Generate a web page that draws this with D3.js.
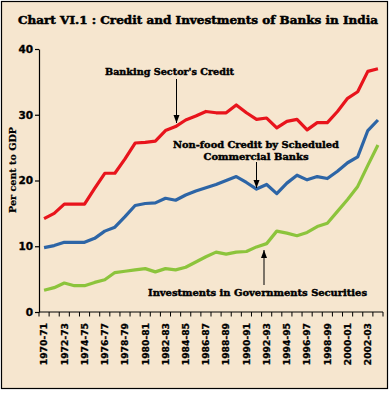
<!DOCTYPE html>
<html>
<head>
<meta charset="utf-8">
<script src="https://cdn.jsdelivr.net/npm/d3@7"></script>
<style>
  html, body { margin: 0; padding: 0; background: #ffffff; }
  svg { display: block; }
</style>
</head>
<body>
<script>
const years = ["1970-71","1971-72","1972-73","1973-74","1974-75","1975-76","1976-77","1977-78","1978-79","1979-80",
  "1980-81","1981-82","1982-83","1983-84","1984-85","1985-86","1986-87","1987-88","1988-89","1989-90",
  "1990-91","1991-92","1992-93","1993-94","1994-95","1995-96","1996-97","1997-98","1998-99","1999-00",
  "2000-01","2001-02","2002-03","2003-04"];
const bankingCredit = [14.2,15.0,16.4,16.4,16.4,18.8,21.1,21.1,23.3,25.7,25.8,26.0,27.6,28.2,29.2,29.8,30.5,30.3,30.3,31.5,
  30.3,29.3,29.5,28.0,29.0,29.3,27.7,28.8,28.8,30.5,32.5,33.5,36.6,37.0];
const nonFoodCredit = [9.8,10.1,10.6,10.6,10.6,11.2,12.3,12.9,14.5,16.2,16.5,16.6,17.3,17.0,17.8,18.4,18.9,19.4,20.0,20.6,
  19.7,18.7,19.4,18.0,19.6,20.8,20.1,20.6,20.3,21.4,22.7,23.6,27.6,29.2];
const govtInvestments = [3.3,3.7,4.4,4.0,4.0,4.5,4.9,6.0,6.2,6.4,6.6,6.1,6.6,6.4,6.8,7.6,8.4,9.1,8.8,9.1,
  9.2,9.9,10.4,12.3,12.0,11.6,12.1,13.0,13.5,15.3,17.1,19.1,22.3,25.4];
const yTicks = [0,10,20,30,40];
const labelYears = years.filter((d,i) => i % 2 === 0);

const W = 392, H = 393;
const bg = "#F6E6CF";
const serif = "'DejaVu Serif', 'Liberation Serif', serif";
const sans = "'DejaVu Sans', 'Liberation Sans', sans-serif";

const svg = d3.select("body").append("svg").attr("width", W).attr("height", H);
svg.append("rect").attr("x", 1.5).attr("y", 1.5).attr("width", 386).attr("height", 387)
  .attr("fill", bg).attr("stroke", "#000").attr("stroke-width", 1.2);

const x = d3.scaleBand().domain(years).range([39, 383]).padding(0);
const xEdge = d3.scaleLinear().domain([0, years.length]).range([39, 383]);
const y = d3.scaleLinear().domain([0, 40]).range([312, 49]);
const cx = d => x(d) + x.bandwidth() / 2;

// title
svg.append("text").attr("x", 198).attr("y", 24).attr("text-anchor", "middle")
  .attr("font-family", serif).attr("font-weight", "900").attr("font-size", 11.5)
  .attr("stroke", "#000").attr("stroke-width", 0.5)
  .attr("textLength", 360).attr("lengthAdjust", "spacingAndGlyphs")
  .text("Chart VI.1 : Credit and Investments of Banks in India");

// y axis
const yAxis = svg.append("g").attr("transform", "translate(39,0)")
  .call(d3.axisLeft(y).tickValues(yTicks).tickSize(4).tickSizeOuter(0).tickPadding(2));
yAxis.select(".domain").attr("stroke", "#000").attr("stroke-width", 1.2);
yAxis.selectAll(".tick line").attr("stroke", "#000").attr("stroke-width", 1.2);
yAxis.selectAll("text").attr("font-family", sans).attr("font-weight", "bold").attr("font-size", 10.5)
  .attr("fill", "#000").attr("stroke", "#000").attr("stroke-width", 0.3);

// x axis
svg.append("line").attr("x1", 39).attr("x2", 383).attr("y1", 312).attr("y2", 312)
  .attr("stroke", "#000").attr("stroke-width", 1.2);
svg.append("g").selectAll("line").data(d3.range(years.length + 1)).join("line")
  .attr("x1", d => xEdge(d)).attr("x2", d => xEdge(d))
  .attr("y1", 312).attr("y2", 316.5).attr("stroke", "#000").attr("stroke-width", 1);
svg.append("g").selectAll("text").data(labelYears).join("text")
  .attr("transform", d => `translate(${cx(d) + 3.3},323) rotate(-90)`)
  .attr("text-anchor", "end")
  .attr("font-family", sans).attr("font-weight", "bold").attr("font-size", 9.2)
  .attr("stroke", "#000").attr("stroke-width", 0.3)
  .text(d => d);

// y axis title
svg.append("text").attr("transform", "translate(16,170) rotate(-90)")
  .attr("text-anchor", "middle").attr("font-family", serif).attr("font-weight", "bold")
  .attr("font-size", 9.5).attr("textLength", 86).attr("lengthAdjust", "spacingAndGlyphs")
  .attr("stroke", "#000").attr("stroke-width", 0.2)
  .text("Per cent to GDP");

// lines
const line = d3.line().x((d, i) => cx(years[i])).y(d => y(d));
const series = [
  { values: govtInvestments, color: "#8CC43C" },
  { values: nonFoodCredit, color: "#2D65A6" },
  { values: bankingCredit, color: "#E8141C" }
];
svg.append("g").selectAll("path").data(series).join("path")
  .attr("d", d => line(d.values)).attr("fill", "none")
  .attr("stroke", d => d.color).attr("stroke-width", 3.2).attr("stroke-linejoin", "round");

// annotations
function annot(lines, xc, ys, widths) {
  lines.forEach((t, i) => {
    svg.append("text").attr("x", xc).attr("y", ys[i]).attr("text-anchor", "middle")
      .attr("font-family", serif).attr("font-weight", "900").attr("font-size", 10)
      .attr("stroke", "#000").attr("stroke-width", 0.45)
      .attr("textLength", widths[i]).attr("lengthAdjust", "spacingAndGlyphs").text(t);
  });
}
function arrow(x0, y0, y1) {
  svg.append("line").attr("x1", x0).attr("x2", x0).attr("y1", y0).attr("y2", y1)
    .attr("stroke", "#000").attr("stroke-width", 1);
  const dir = y1 > y0 ? 1 : -1;
  svg.append("path").attr("d", `M${x0},${y1} L${x0 - 3},${y1 - dir * 8} L${x0 + 3},${y1 - dir * 8} Z`).attr("fill", "#000");
}
annot(["Banking Sector's Credit"], 169.5, [75], [129]);
arrow(176.5, 79, 123);
annot(["Non-food Credit by Scheduled", "Commercial Banks"], 256, [148, 159.5], [166, 105]);
arrow(256.5, 162, 188);
annot(["Investments in Governments Securities"], 257.5, [295.5], [219]);
arrow(264, 285, 250);
</script>
</body>
</html>
